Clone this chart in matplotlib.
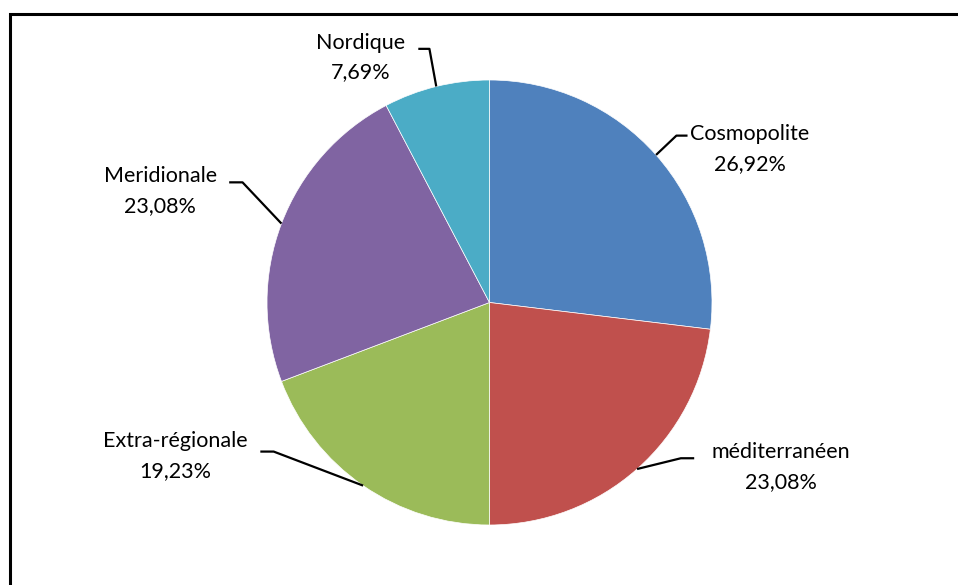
import numpy as np
import matplotlib.pyplot as plt
from matplotlib.patches import Rectangle

plt.rcParams['font.family'] = ['Lato', 'DejaVu Sans']

categories = ['Cosmopolite', 'méditerranéen', 'Extra-régionale', 'Meridionale', 'Nordique']
values = [26.92, 23.08, 19.23, 23.08, 7.69]
pct_labels = ['26,92%', '23,08%', '19,23%', '23,08%', '7,69%']
colors = ['#4F81BD', '#C0504D', '#9BBB59', '#8064A2', '#4BACC6']

# label layout in pie units (radius = 1): text centre, elbow, end of leader
text_pos = [(1.17, 0.69), (1.31, -0.74), (-1.41, -0.69), (-1.48, 0.50), (-0.58, 1.10)]
elbow_pos = [(0.84, 0.75), (0.86, -0.70), (-0.97, -0.67), (-1.11, 0.54), (-0.27, 1.14)]
end_pos = [(0.89, 0.75), (0.92, -0.70), (-1.03, -0.67), (-1.17, 0.54), (-0.32, 1.14)]

W, H = 958, 585
cx, cy, r = 489.5, 302.5, 222.5
fig = plt.figure(figsize=(W / 100, H / 100), dpi=100)
ax = fig.add_axes([(cx - r) / W, (H - cy - r) / H, 2 * r / W, 2 * r / H])

wedges, _ = ax.pie(values, colors=colors, startangle=90, counterclock=False,
                   radius=1, wedgeprops=dict(edgecolor='white', linewidth=0.5))
ax.set_xlim(-1, 1)
ax.set_ylim(-1, 1)
ax.set_aspect('equal')
ax.axis('off')

for w, cat, pct, tp, ep, nd in zip(wedges, categories, pct_labels, text_pos, elbow_pos, end_pos):
    ang = np.deg2rad((w.theta1 + w.theta2) / 2)
    px, py = np.cos(ang), np.sin(ang)
    ax.plot([px, ep[0], nd[0]], [py, ep[1], nd[1]], color='black', lw=1.6,
            clip_on=False, solid_capstyle='butt')
    ax.text(tp[0], tp[1], f'{cat}\n{pct}', ha='center', va='center',
            fontsize=15.5, linespacing=1.6, clip_on=False)

fig.patches.append(Rectangle((9.5 / W, -0.1), 1.2, 1 - 14 / H + 0.1,
                             transform=fig.transFigure, fill=False,
                             edgecolor='black', linewidth=2.2, clip_on=False))

fig.savefig('out.png', dpi=100, facecolor='white')
